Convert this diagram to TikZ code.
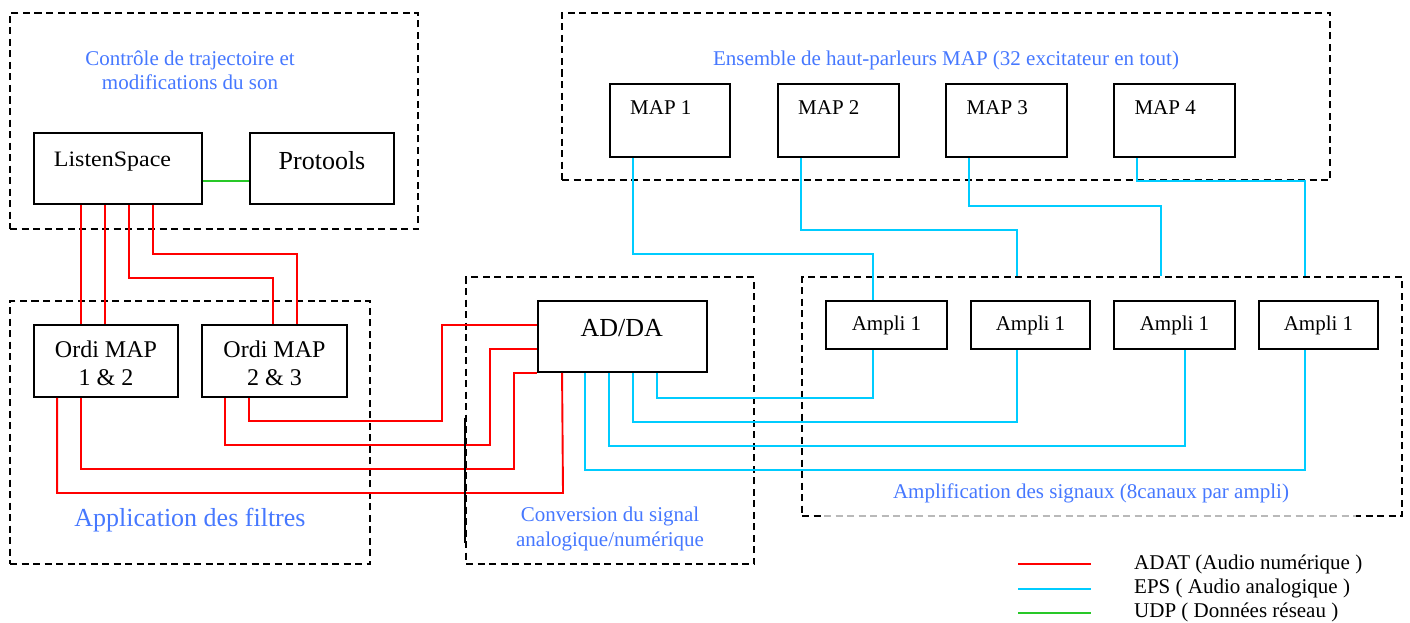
\documentclass[tikz,border=0pt]{standalone}
\usepackage{fontspec}
\setmainfont{Liberation Serif}
\newfontfamily\widefont[FakeStretch=1.09]{Liberation Serif}
\usetikzlibrary{calc}
\definecolor{adatc}{RGB}{255,0,0}
\definecolor{epsc}{RGB}{0,204,255}
\definecolor{udpc}{RGB}{40,200,40}
\definecolor{ttlc}{RGB}{70,120,255}
\newcommand\myfs[1]{\fontsize{#1}{#1}\selectfont}
\begin{document}
\begin{tikzpicture}[x=1pt,y=-1pt,
  grp/.style={draw=black, line width=1.7pt, dash pattern=on 7pt off 4.5pt, inner sep=0pt},
  box/.style={draw=black, line width=1.9pt, inner sep=0pt},
  lbl/.style={font=\myfs{21}, text=ttlc, anchor=base, inner sep=0pt},
  btxt/.style={anchor=base, inner sep=0pt},
  adatl/.style={draw=adatc, line width=1.9pt},
  epsl/.style={draw=epsc, line width=1.9pt},
  udpl/.style={draw=udpc, line width=1.9pt},
  sz/.style 2 args={minimum width=#1pt, minimum height=#2pt}]
\useasboundingbox (0,0) rectangle (1410,623);
\fill[white] (0,0) rectangle (1410,623);

% groups
\node[grp, sz={408}{216}] (ctrl) at (214,121) {};
\node[grp, sz={360}{263}] (filt) at (190,432.5) {};
\node[grp, sz={288}{287}] (conv) at (610,420.5) {};
\node[grp, sz={600}{239}] (ampg) at (1102,396.5) {};
\node[grp, sz={768}{167}] (mapg) at (946,96.5) {};
\draw[white, line width=2.4pt] (824,516) -- (1356,516);
\draw[gray!55, line width=1.6pt, dash pattern=on 7pt off 4.5pt] (824,516) -- (1356,516);

% group titles
\node[lbl] (t1a) at (190,65.7) {Contrôle de trajectoire et};
\node[lbl] (t1b) at (190,90) {modifications du son};
\node[lbl] (t2) at (946,65.7) {Ensemble de haut-parleurs MAP (32 excitateur en tout)};
\node[lbl] (t3a) at (610,521) {Conversion du signal};
\node[lbl] (t3b) at (610,546) {analogique/numérique};
\node[lbl] (t4) at (1091,498.3) {Amplification des signaux (8canaux par ampli)};
\node[lbl, font=\myfs{26}] (t5) at (190,526.7) {Application des filtres};

% boxes
\node[box, sz={168}{71}] (ls) at (118,168.5) {};
\node[btxt, font=\widefont\myfs{22}] (lst) at (112.5,166) {ListenSpace};
\node[box, sz={144}{71}] (pt) at (322,168.5) {};
\node[btxt, font=\myfs{26}] (ptt) at (322,169.3) {Protools};

\node[box, sz={144}{72}] (o12) at (106,361) {};
\node[btxt, font=\myfs{24}] (o12a) at (106,357.3) {Ordi MAP};
\node[btxt, font=\myfs{24}] (o12b) at (106,385.3) {1 \& 2};
\node[box, sz={145}{72}] (o23) at (274.5,361) {};
\node[btxt, font=\myfs{24}] (o23a) at (274.5,357.3) {Ordi MAP};
\node[btxt, font=\myfs{24}] (o23b) at (274.5,385.3) {2 \& 3};

\node[box, sz={169}{71}] (adda) at (622.5,336.5) {};
\node[btxt, font=\myfs{26}] (addat) at (621.7,336.7) {AD/DA};

\node[box, sz={121}{48}, font=\myfs{21}] (a1) at (886.5,325) {Ampli 1};
\node[box, sz={119}{48}, font=\myfs{21}] (a2) at (1030.5,325) {Ampli 1};
\node[box, sz={121}{48}, font=\myfs{21}] (a3) at (1174.5,325) {Ampli 1};
\node[box, sz={119}{48}, font=\myfs{21}] (a4) at (1318.5,325) {Ampli 1};

\node[box, sz={120}{73}] (map1) at (670,120.5) {};
\node[box, sz={121}{73}] (map2) at (838.5,120.5) {};
\node[box, sz={121}{73}] (map3) at (1006.5,120.5) {};
\node[box, sz={121}{73}] (map4) at (1174.5,120.5) {};
\node[btxt, anchor=base west, font=\myfs{21}] (m1t) at (630,115) {MAP 1};
\node[btxt, anchor=base west, font=\myfs{21}] (m2t) at (798,115) {MAP 2};
\node[btxt, anchor=base west, font=\myfs{21}] (m3t) at (966.5,115) {MAP 3};
\node[btxt, anchor=base west, font=\myfs{21}] (m4t) at (1134.3,115) {MAP 4};

% UDP
\draw[udpl] ([yshift=-12.5]ls.east) -- ([yshift=-12.5]pt.west);

% ADAT: ListenSpace -> Ordi
\draw[adatl] ([xshift=48]ls.south west) -- ([xshift=48]o12.north west);
\draw[adatl] ([xshift=72]ls.south west) -- ([xshift=72]o12.north west);
\draw[adatl] ([xshift=96]ls.south west) -- ++(0,73) -| ([xshift=72]o23.north west);
\draw[adatl] ([xshift=120]ls.south west) -- ++(0,49) -| ([xshift=96]o23.north west);

% ADAT: Ordi -> AD/DA
\draw[adatl] ([xshift=48]o23.south west) |- (442,421) |- ([yshift=11.5]adda.west);
\draw[adatl] ([xshift=24]o23.south west) |- (490,445) |- ([yshift=-12.5]adda.west);
\draw[adatl] ([xshift=48]o12.south west) |- (514,469) |- (adda.south west);
\draw[adatl] ([xshift=24]o12.south west) |- (563,493) -- ([xshift=25]adda.south west);

% black line
\draw[line width=1.6pt] ([yshift=2.5]conv.west) -- ([yshift=-122.5]conv.west);

% EPS: AD/DA -> amplis
\draw[epsl] ([xshift=120]adda.south west) -- ++(0,25) -| ([xshift=48]a1.south west);
\draw[epsl] ([xshift=96]adda.south west) -- ++(0,49) -| ([xshift=47]a2.south west);
\draw[epsl] ([xshift=72]adda.south west) -- ++(0,73) -| ([xshift=72]a3.south west);
\draw[epsl] ([xshift=48]adda.south west) -- ++(0,97) -| ([xshift=47]a4.south west);

% EPS: MAP -> amplis
\draw[epsl] ([xshift=24]map1.south west) -- ++(0,96) -| ([xshift=48]a1.north west);
\draw[epsl] ([xshift=24]map2.south west) -- ++(0,72) -| ([xshift=216]ampg.north west);
\draw[epsl] ([xshift=24]map3.south west) -- ++(0,48) -| ([xshift=360]ampg.north west);
\draw[epsl] ([xshift=24]map4.south west) -- ++(0,23) -| ([xshift=504]ampg.north west);

% legend
\coordinate (l1a) at (1018,564); \coordinate (l1b) at (1091,564);
\coordinate (l2a) at (1018,589); \coordinate (l2b) at (1091,589);
\coordinate (l3a) at (1018,613); \coordinate (l3b) at (1091,613);
\draw[adatl] (l1a) -- (l1b);
\draw[epsl] (l2a) -- (l2b);
\draw[udpl] (l3a) -- (l3b);
\node[btxt, anchor=base west, font=\myfs{21}] (lg1) at (1134,569.3) {ADAT (Audio numérique )};
\node[btxt, anchor=base west, font=\myfs{21}] (lg2) at (1134,593.3) {EPS ( Audio analogique )};
\node[btxt, anchor=base west, font=\myfs{21}] (lg3) at (1134,617.3) {UDP ( Données réseau )};
\end{tikzpicture}
\end{document}
